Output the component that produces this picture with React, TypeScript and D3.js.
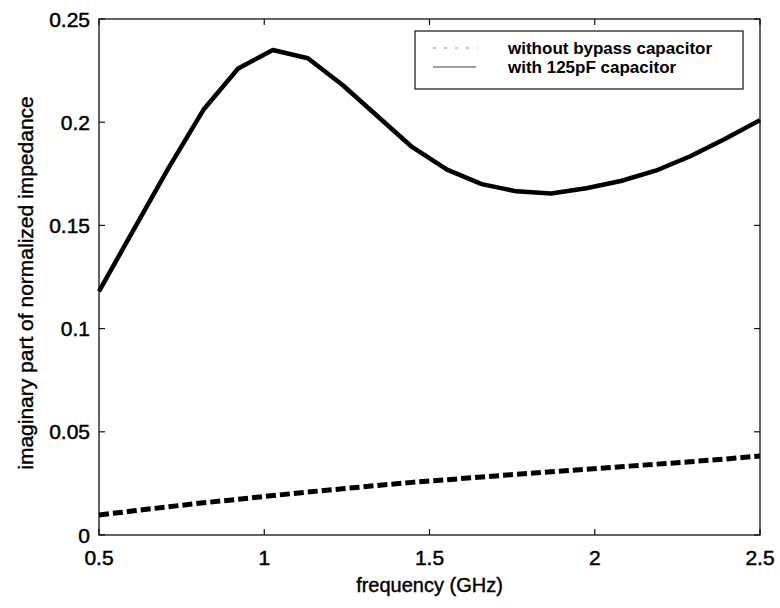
import React, { useEffect, useRef } from 'react';
import * as d3 from 'd3';

// frequency samples (GHz)
const freq = [0.5, 0.605, 0.711, 0.816, 0.921, 1.026, 1.132, 1.237, 1.342, 1.447,
  1.553, 1.658, 1.763, 1.868, 1.974, 2.079, 2.184, 2.289, 2.395, 2.5];

// with 125pF capacitor (solid)
const withCap = [0.118, 0.148, 0.178, 0.206, 0.226, 0.235, 0.231, 0.218, 0.203, 0.188,
  0.177, 0.170, 0.1665, 0.1655, 0.168, 0.1715, 0.1765, 0.1835, 0.192, 0.201];

// without bypass capacitor (dashed)
const withoutCap = [0.0097, 0.0117, 0.0137, 0.0156, 0.0173, 0.0191, 0.0208, 0.0224, 0.024, 0.0255,
  0.0268, 0.0281, 0.0294, 0.0306, 0.0318, 0.0331, 0.0343, 0.0355, 0.0368, 0.0383];

const xTicks = [0.5, 1, 1.5, 2, 2.5];
const yTicks = [0, 0.05, 0.1, 0.15, 0.2, 0.25];
const legendLabels = ['without bypass capacitor', 'with 125pF capacitor'];

const FONT = '"Liberation Sans", Arial, Helvetica, sans-serif';

const App = () => {
  const svgRef = useRef<SVGSVGElement>(null);

  useEffect(() => {
    const svg = d3.select(svgRef.current);
    svg.selectAll('*').remove();

    const left = 99, right = 760, top = 19, bottom = 535;
    const x = d3.scaleLinear().domain([0.5, 2.5]).range([left, right]);
    const y = d3.scaleLinear().domain([0, 0.25]).range([bottom, top]);

    const g = svg.append('g');

    // box
    g.append('rect')
      .attr('x', left).attr('y', top)
      .attr('width', right - left).attr('height', bottom - top)
      .attr('fill', 'none').attr('stroke', '#111').attr('stroke-width', 1.3);

    const tickLen = 6;
    // ticks on all four sides, pointing inward
    xTicks.forEach(t => {
      g.append('line').attr('x1', x(t)).attr('x2', x(t)).attr('y1', bottom).attr('y2', bottom - tickLen)
        .attr('stroke', '#111').attr('stroke-width', 1.2);
      g.append('line').attr('x1', x(t)).attr('x2', x(t)).attr('y1', top).attr('y2', top + tickLen)
        .attr('stroke', '#111').attr('stroke-width', 1.2);
      g.append('text')
        .attr('x', x(t)).attr('y', 565)
        .attr('text-anchor', 'middle')
        .attr('font-family', FONT).attr('font-size', 21)
        .attr('fill', '#000').attr('stroke', '#000').attr('stroke-width', 0.5)
        .text(String(t));
    });
    yTicks.forEach(t => {
      g.append('line').attr('x1', left).attr('x2', left + tickLen).attr('y1', y(t)).attr('y2', y(t))
        .attr('stroke', '#111').attr('stroke-width', 1.2);
      g.append('line').attr('x1', right).attr('x2', right - tickLen).attr('y1', y(t)).attr('y2', y(t))
        .attr('stroke', '#111').attr('stroke-width', 1.2);
      g.append('text')
        .attr('x', 90).attr('y', y(t))
        .attr('dy', '0.36em')
        .attr('text-anchor', 'end')
        .attr('font-family', FONT).attr('font-size', 21)
        .attr('fill', '#000').attr('stroke', '#000').attr('stroke-width', 0.5)
        .text(String(+t.toFixed(2)));
    });

    const line = d3.line<number>()
      .x((_, i) => x(freq[i]))
      .y(d => y(d));

    g.append('path')
      .datum(withoutCap)
      .attr('d', line)
      .attr('fill', 'none')
      .attr('stroke', '#000')
      .attr('stroke-width', 5)
      .attr('stroke-dasharray', '10 4');

    g.append('path')
      .datum(withCap)
      .attr('d', line)
      .attr('fill', 'none')
      .attr('stroke', '#000')
      .attr('stroke-width', 4.5)
      .attr('stroke-linejoin', 'round');

    // legend
    const lg = g.append('g');
    lg.append('rect')
      .attr('x', 415).attr('y', 31).attr('width', 328).attr('height', 58)
      .attr('fill', '#fff').attr('stroke', '#111').attr('stroke-width', 1.2);
    const rows = [48, 67];
    lg.append('line').attr('x1', 433).attr('x2', 478).attr('y1', rows[0]).attr('y2', rows[0])
      .attr('stroke', '#888').attr('stroke-width', 1).attr('stroke-dasharray', '3 8');
    lg.append('line').attr('x1', 433).attr('x2', 476).attr('y1', rows[1]).attr('y2', rows[1])
      .attr('stroke', '#444').attr('stroke-width', 1);
    legendLabels.forEach((lab, i) => {
      lg.append('text')
        .attr('x', 508).attr('y', rows[i])
        .attr('dy', '0.35em')
        .attr('font-family', FONT).attr('font-size', 17).attr('font-weight', 'bold')
        .attr('fill', '#000')
        .text(lab);
    });

    // axis labels
    g.append('text')
      .attr('x', (left + right) / 2).attr('y', 592)
      .attr('text-anchor', 'middle')
      .attr('font-family', FONT).attr('font-size', 20)
      .attr('fill', '#000').attr('stroke', '#000').attr('stroke-width', 0.4)
      .text('frequency (GHz)');
    g.append('text')
      .attr('transform', `translate(33,${(top + bottom) / 2 + 6}) rotate(-90)`)
      .attr('text-anchor', 'middle')
      .attr('font-family', FONT).attr('font-size', 21)
      .attr('fill', '#000').attr('stroke', '#000').attr('stroke-width', 0.4)
      .text('imaginary part of normalized impedance');
  }, []);

  return (
    <svg ref={svgRef} width={780} height={608}
      style={{ position: 'absolute', left: 0, top: 0, background: '#fff' }} />
  );
};

export default App;
